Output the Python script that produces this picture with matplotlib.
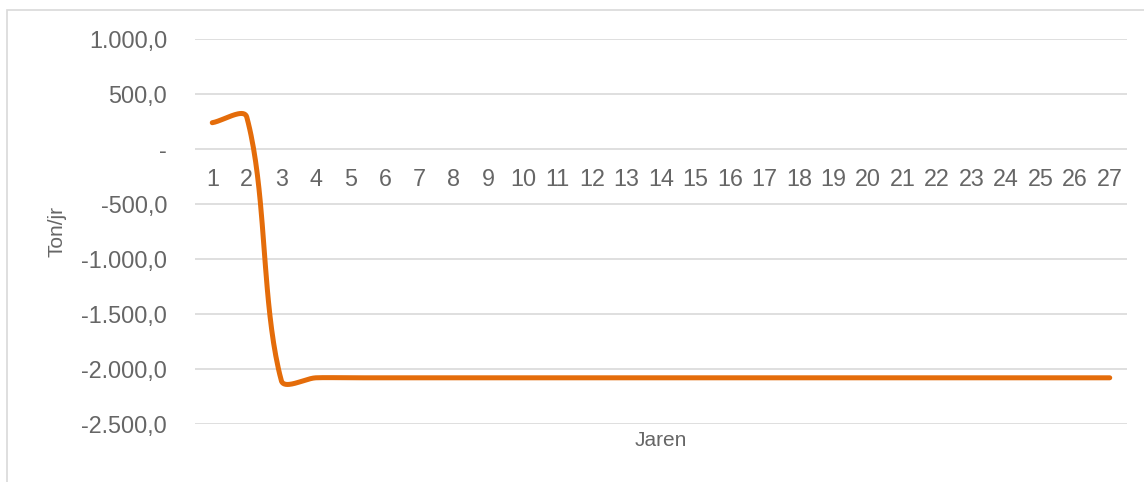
import numpy as np
import matplotlib.pyplot as plt
from matplotlib.patches import Rectangle
from matplotlib.ticker import FuncFormatter

plt.rcParams['font.family'] = ['Liberation Sans', 'DejaVu Sans']

jaren = list(range(1, 28))
ton_per_jr = [239, 290, -2105] + [-2080] * 24

y_ticks = [-2500, -2000, -1500, -1000, -500, 0, 500, 1000]


def excel_smooth(x, y, sx, sy, n=40):
    # bezier smoothing roughly like Excel's smoothed line, in pixel space
    p = np.column_stack([np.asarray(x, float) * sx, np.asarray(y, float) * sy])
    m = len(p)
    out = []
    for i in range(m - 1):
        a, b = p[i], p[i + 1]
        seg = np.linalg.norm(b - a)
        ta = p[min(i + 1, m - 1)] - p[max(i - 1, 0)]
        tb = p[min(i + 2, m - 1)] - p[i]
        ta = ta / (np.linalg.norm(ta) or 1)
        tb = tb / (np.linalg.norm(tb) or 1)
        c1 = a + ta * seg * 0.3
        c2 = b - tb * seg * 0.3
        t = np.linspace(0, 1, n)[:, None]
        pts = (1 - t) ** 3 * a + 3 * (1 - t) ** 2 * t * c1 + 3 * (1 - t) * t ** 2 * c2 + t ** 3 * b
        out.append(pts if i == 0 else pts[1:])
    pts = np.vstack(out)
    return pts[:, 0] / sx, pts[:, 1] / sy


def fmt(v, pos):
    if v == 0:
        return '-'
    s = f'{v:,.1f}'
    return s.replace(',', 'X').replace('.', ',').replace('X', '.')


txt = '#666666'

fig = plt.figure(figsize=(11.44, 4.82), dpi=100)
ax = fig.add_axes([195 / 1144, 1 - 424 / 482, 932 / 1144, 385 / 482])

# outer chart frame
fig.patches.append(Rectangle((7 / 1144, -0.1), 1.2, 1 - 10 / 482 + 0.1, transform=fig.transFigure,
                             fill=False, edgecolor='#D9D9D9', linewidth=1.2))

xs, ys = excel_smooth(jaren, ton_per_jr, 34.5, 55 / 500)
ax.plot(xs, ys, color='#E46C0A', linewidth=3.6, solid_capstyle='round', zorder=3)

ax.set_xlim(0.5, 27.5)
ax.set_ylim(-2500, 1000)
ax.set_yticks(y_ticks)
ax.yaxis.set_major_formatter(FuncFormatter(fmt))
ax.set_xticks(jaren)
ax.set_xticklabels([str(j) for j in jaren])

ax.grid(axis='y', color='#D9D9D9', linewidth=1.2)
ax.set_axisbelow(True)
for s in ['top', 'right', 'left']:
    ax.spines[s].set_visible(False)
ax.spines['bottom'].set_position(('data', 0))
ax.spines['bottom'].set_visible(False)

ax.tick_params(axis='both', length=0, colors=txt, labelsize=16.8)
ax.tick_params(axis='y', pad=20)
ax.tick_params(axis='x', pad=14)

ax.set_ylabel('Ton/jr', fontsize=15, color=txt)
ax.yaxis.set_label_coords(-128 / 932, 0.5)
fig.text(661 / 1144, 1 - 441 / 482, 'Jaren', fontsize=15, color=txt, ha='center', va='center')

fig.savefig('out.png', dpi=100)
